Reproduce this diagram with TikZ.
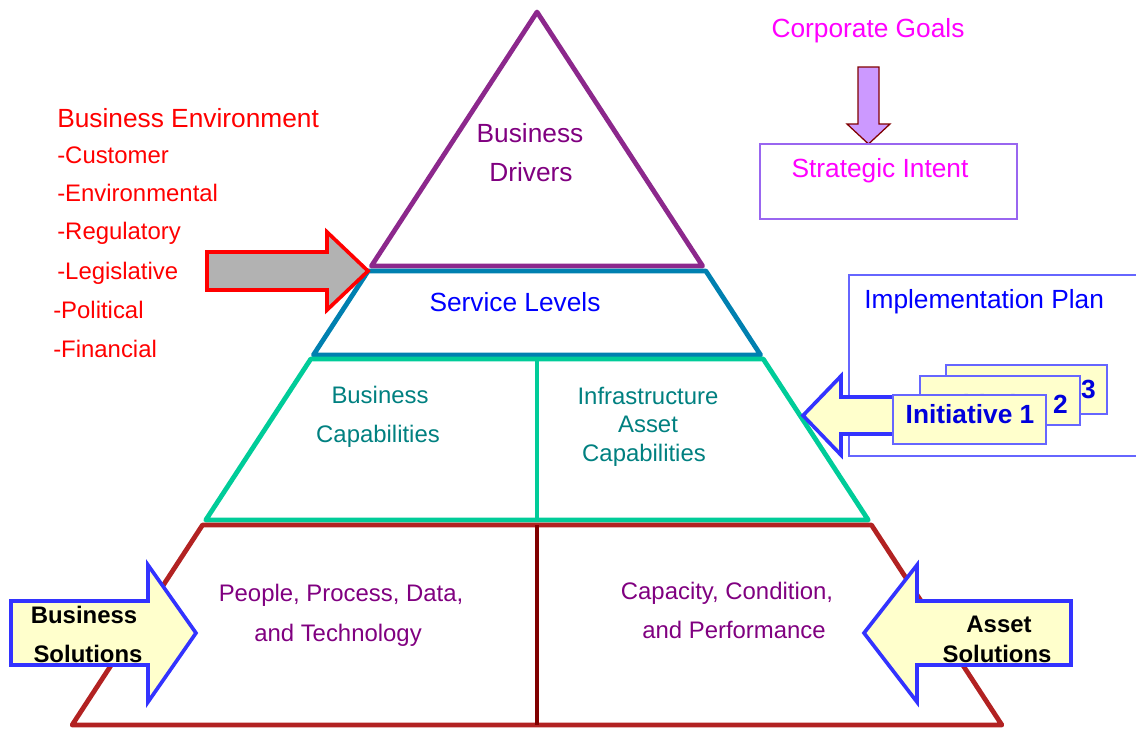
\documentclass[tikz,border=0pt]{standalone}
\usepackage{fontspec}
\setmainfont{Liberation Sans}

\definecolor{cDrv}{RGB}{140,40,140}
\definecolor{cSrv}{RGB}{0,128,176}
\definecolor{cCap}{RGB}{0,204,153}
\definecolor{cSol}{RGB}{178,34,34}
\definecolor{cDiv}{RGB}{128,0,0}
\definecolor{cMorado}{RGB}{128,0,128}
\definecolor{cTeal}{RGB}{0,128,128}
\definecolor{cCrema}{RGB}{255,255,204}
\definecolor{cAzulF}{RGB}{51,51,255}
\definecolor{cAzulC}{RGB}{102,102,255}
\definecolor{cTinta}{RGB}{0,0,220}
\definecolor{cGris}{RGB}{178,178,178}
\definecolor{cLila}{RGB}{204,153,255}
\definecolor{cVioleta}{RGB}{153,102,240}
\definecolor{cFucsia}{RGB}{255,0,255}
\definecolor{cRojo}{RGB}{255,0,0}
\definecolor{cAzul}{RGB}{0,0,255}

\begin{document}
\begin{tikzpicture}[
    x=0.025cm, y=-0.025cm,
    lvl/.style={line width=3.4pt, line join=round},
    tl/.style={font=\fontsize{18.7}{22}\selectfont, inner sep=0pt, anchor=base},
    ts/.style={font=\fontsize{17}{20}\selectfont, inner sep=0pt, anchor=base},
    tb/.style={font=\fontsize{17}{20}\selectfont\bfseries, inner sep=0pt, anchor=base},
    fl/.style={fill=cCrema, draw=cAzulF, line width=2.6pt, line join=miter},
    card/.style={fill=cCrema, draw=cAzulC, line width=1.1pt}
  ]
    \useasboundingbox (0,0) rectangle (1136,730);

    % Pirámide (vértice y pendiente de los lados)
    \def\topx{537}
    \def\topy{12}
    \def\pend{0.652}

    \draw[lvl, cDrv] (\topx,\topy) -- ({\topx+\pend*(266-\topy)},266)
      -- ({\topx-\pend*(266-\topy)},266) -- cycle;
    \foreach \ya/\yb/\c in {271/355/cSrv, 359/520/cCap, 525/725/cSol} {
      \draw[lvl, \c] ({\topx-\pend*(\ya-\topy)},\ya) -- ({\topx+\pend*(\ya-\topy)},\ya)
        -- ({\topx+\pend*(\yb-\topy)},\yb) -- ({\topx-\pend*(\yb-\topy)},\yb) -- cycle;
    }
    \draw[lvl, cCap] (\topx,359) -- (\topx,520);
    \draw[lvl, cDiv] (\topx,525) -- (\topx,725);

    % Textos de los niveles
    \node[tl, text=cMorado] (drv1) at (530,142) {Business};
    \node[tl, text=cMorado] (drv2) at (531,181) {Drivers};
    \node[tl, text=cAzul] (serv) at (515,311) {Service Levels};
    \node[ts, text=cTeal] (bcap1) at (380,403) {Business};
    \node[ts, text=cTeal] (bcap2) at (378,442) {Capabilities};
    \node[ts, text=cTeal] (icap1) at (648,404) {Infrastructure};
    \node[ts, text=cTeal] (icap2) at (648,432) {Asset};
    \node[ts, text=cTeal] (icap3) at (644,461) {Capabilities};
    \node[ts, text=cMorado] (ppl1) at (341,601) {People, Process, Data,};
    \node[ts, text=cMorado] (ppl2) at (338,641) {and Technology};
    \node[ts, text=cMorado] (cond1) at (727,599) {Capacity, Condition,};
    \node[ts, text=cMorado] (cond2) at (734,638) {and Performance};

    % Entorno del negocio
    \node[tl, anchor=base west, text=cRojo] (benv) at (57,127) {Business Environment};
    \foreach \n/\x/\y/\s in {cust/57/163/Customer, envi/57/201/Environmental,
        regu/57/239/Regulatory, legi/57/279/Legislative,
        poli/53/318/Political, fina/53/357/Financial} {
      \node[ts, anchor=base west, text=cRojo] (\n) at (\x,\y) {-\s};
    }
    \draw[fl, fill=cGris, draw=cRojo] (207,252) -- (327,252) -- (327,232) -- (368,271)
      -- (327,310) -- (327,290) -- (207,290) -- cycle;

    % Metas corporativas
    \node[tl, text=cFucsia] (goals) at (868,37) {Corporate Goals};
    \draw[fill=cLila, draw=cDiv, line width=0.9pt] (858,67) -- (879,67) -- (879,124)
      -- (890,124) -- (868.5,144) -- (847,124) -- (858,124) -- cycle;
    \draw[cVioleta, line width=1pt] (760,144) rectangle (1017,219);
    \node[tl, text=cFucsia] (intent) at (880,177) {Strategic Intent};

    % Plan de implementación
    \draw[cAzulC, line width=1pt] (1150,275) -- (849,275) -- (849,456) -- (1150,456);
    \node[tl, anchor=base west, text=cAzul] (plan) at (864,308) {Implementation Plan};
    \draw[fl] (905,397) -- (841,397) -- (841,376) -- (803,415.5) -- (841,455)
      -- (841,434) -- (905,434) -- cycle;
    \draw[card] (946,365) rectangle (1107,414);
    \node[tl, font=\fontsize{18.7}{22}\selectfont\bfseries, anchor=base east, text=cTinta]
      (ini3) at (1096,398) {Initiative 3};
    \draw[card] (920,376) rectangle (1080,425);
    \node[tl, font=\fontsize{18.7}{22}\selectfont\bfseries, anchor=base east, text=cTinta]
      (ini2) at (1068,413) {Initiative 2};
    \draw[card] (893,395) rectangle (1046,444);
    \node[tl, font=\fontsize{18.7}{22}\selectfont\bfseries, text=cTinta]
      (ini1) at (970,423) {Initiative 1};

    % Soluciones
    \draw[fl] (11,601) -- (148,601) -- (148,565) -- (196,633) -- (148,702)
      -- (148,665) -- (11,665) -- cycle;
    \node[tb] (bsol1) at (84,623) {Business};
    \node[tb] (bsol2) at (88,662) {Solutions};
    \draw[fl] (1071,601) -- (917,601) -- (917,565) -- (864,633) -- (917,702)
      -- (917,665) -- (1071,665) -- cycle;
    \node[tb] (asol1) at (999,632) {Asset};
    \node[tb] (asol2) at (997,662) {Solutions};
  \end{tikzpicture}
\end{document}
